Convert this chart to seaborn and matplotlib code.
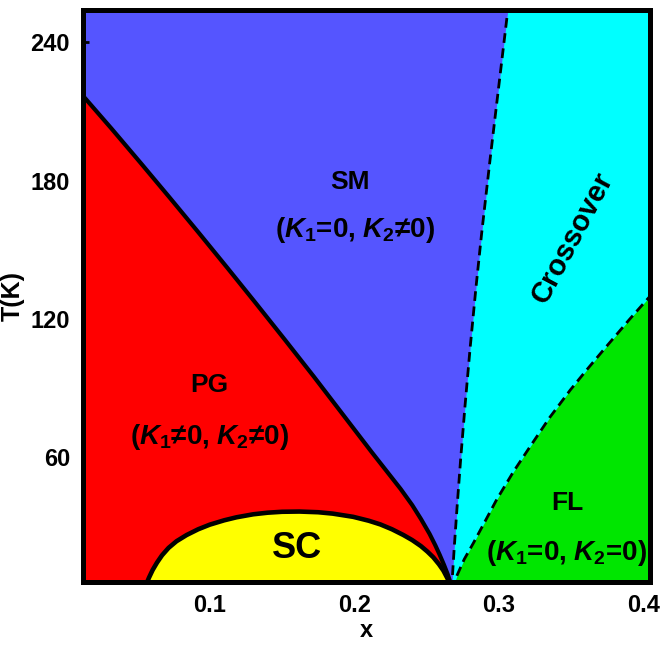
import numpy as np
import pandas as pd
import matplotlib
matplotlib.use("Agg")
import matplotlib.pyplot as plt
import seaborn as sns

# =============================================
# 1. Boundary lines (x = doping, T in K)
# =============================================
# PG / SM boundary (solid)
pg_x = [0.010, 0.032, 0.052, 0.072, 0.092, 0.112, 0.132, 0.152, 0.172, 0.192, 0.212,
        0.232, 0.240, 0.246, 0.252, 0.256, 0.259, 0.262, 0.2645, 0.2665, 0.2675]
pg_T = [218.5, 202.6, 187.8, 172.8, 157.6, 142.2, 126.6, 110.8, 94.8, 78.4, 62.0,
        46.0, 39.0, 33.0, 26.5, 21.5, 17.4, 13.0, 9.0, 5.2, 3.0]

# SC dome (solid)
sc_x = [0.0545, 0.0560, 0.0580, 0.0605, 0.0635, 0.0670, 0.0715, 0.077, 0.084, 0.092, 0.100,
        0.110, 0.1185, 0.130, 0.140, 0.150, 0.162, 0.175, 0.185, 0.1992, 0.210,
        0.218, 0.226, 0.2339, 0.240, 0.246, 0.2505, 0.2546, 0.2585, 0.2616, 0.2645, 0.2665]
sc_T = [2.0, 4.5, 7.5, 10.8, 14.0, 17.2, 20.4, 23.3, 26.0, 28.5, 30.5,
        32.4, 33.7, 35.0, 35.7, 36.1, 36.2, 35.9, 35.3, 33.9, 32.2,
        30.6, 28.5, 26.0, 23.8, 21.2, 18.8, 16.3, 13.3, 10.5, 7.0, 3.0]

# SM / Crossover boundary (dashed)
sm_x = [0.2672, 0.2690, 0.2710, 0.2735, 0.2765, 0.2800, 0.2840, 0.2880, 0.2939, 0.3008, 0.3062, 0.3070]
sm_T = [2.0, 20.0, 38.0, 59.0, 82.0, 107.0, 133.0, 157.0, 189.5, 226.0, 254.5, 258.0]

# Crossover / FL boundary (dashed)
fl_x = [0.2675, 0.2710, 0.2760, 0.2823, 0.2900, 0.2985, 0.3100, 0.3216, 0.3350,
        0.3493, 0.3610, 0.3724, 0.3900, 0.4069, 0.4120]
fl_T = [2.0, 8.5, 15.5, 22.5, 31.5, 41.5, 53.5, 64.5, 77.0,
        89.0, 98.0, 106.5, 119.5, 131.5, 135.0]

x_ticks = [0.1, 0.2, 0.3, 0.4]
T_ticks = [60, 120, 180, 240]

# =============================================
# 2. Plotting
# =============================================
sns.set_style("ticks")
plt.rcParams['font.family'] = ['Liberation Sans', 'DejaVu Sans']
plt.rcParams['font.weight'] = 'bold'
plt.rcParams['text.color'] = 'black'
plt.rcParams['axes.labelcolor'] = 'black'
plt.rcParams['xtick.color'] = 'black'
plt.rcParams['ytick.color'] = 'black'
plt.rcParams['mathtext.fontset'] = 'custom'
plt.rcParams['mathtext.rm'] = 'Liberation Sans:bold'
plt.rcParams['mathtext.it'] = 'Liberation Sans:italic:bold'
plt.rcParams['mathtext.bf'] = 'Liberation Sans:bold'

fig, ax = plt.subplots(figsize=(6.6, 6.5), dpi=100)
fig.subplots_adjust(left=0.125, right=0.985, bottom=0.105, top=0.985)

ax.set_facecolor("#5555ff")
ax.fill_betweenx(sm_T, sm_x, 0.42, color="#00ffff", lw=0)
ax.fill_between(fl_x, 0, fl_T, color="#00e600", lw=0)
ax.fill_between(pg_x, 0, pg_T, color="#ff0000", lw=0)
ax.fill_between(sc_x, 0, sc_T, color="#ffff00", lw=0)

sns.lineplot(x=pg_x, y=pg_T, color="black", lw=3, ax=ax, estimator=None, sort=False)
sns.lineplot(x=sc_x, y=sc_T, color="black", lw=3.3, ax=ax, estimator=None, sort=False)
sns.lineplot(x=sm_x, y=sm_T, color="black", lw=2, ax=ax, estimator=None, sort=False,
             linestyle=(0, (3.5, 2)))
sns.lineplot(x=fl_x, y=fl_T, color="black", lw=2, ax=ax, estimator=None, sort=False,
             linestyle=(0, (3.5, 2)))

lab = dict(ha="center", va="center", weight="bold", color="black")
ax.text(0.197, 179.4, "SM", fontsize=19, **lab)
ax.text(0.2004, 158.6, r"($K_1$=0, $K_2$≠0)", fontsize=20, **lab)
ax.text(0.100, 91.2, "PG", fontsize=19, **lab)
ax.text(0.100, 68.6, r"($K_1$≠0, $K_2$≠0)", fontsize=20, **lab)
ax.text(0.160, 20.3, "SC", fontsize=26, **lab)
ax.text(0.347, 39.8, "FL", fontsize=19, **lab)
ax.text(0.347, 18.0, r"($K_1$=0, $K_2$=0)", fontsize=20, **lab)
ax.text(0.3507, 155.0, "Crossover", rotation=62, fontsize=21, **lab)

ax.set_xlim(0.012, 0.4045)
ax.set_ylim(5.7, 254.2)
ax.set_xticks(x_ticks)
ax.set_yticks(T_ticks)
ax.set_xticklabels(["0.1", "0.2", "0.3", "0.4"])
ax.set_xlabel("x", fontsize=17, weight="bold", labelpad=1)
ax.set_ylabel("T(K)", fontsize=18, weight="bold", labelpad=4)
ax.tick_params(direction="in", length=4, width=2, labelsize=17, pad=9)
for s in ax.spines.values():
    s.set_linewidth(3.6)
    s.set_color("black")

fig.savefig("out.png", dpi=100)
